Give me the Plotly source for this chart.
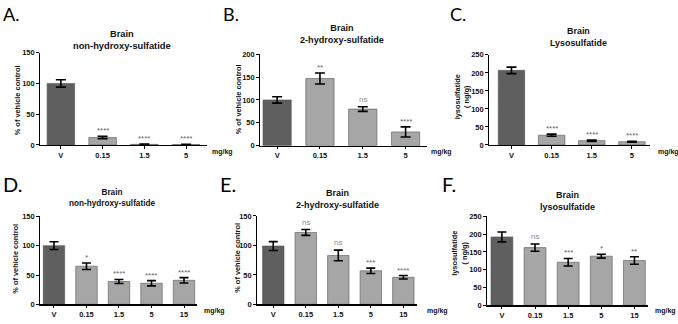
import plotly.graph_objects as go

W, H = 678, 324

# ---------------- data ----------------
cats4 = ["V", "0.15", "1.5", "5"]
cats5 = ["V", "0.15", "1.5", "5", "15"]

a_vals = [100, 12, 1, 0.6]
a_err = [6, 2, 0.4, 0.3]
a_sig = ["", "****", "****", "****"]

b_vals = [100, 147, 80, 30]
b_err = [7, 12, 5, 11]
b_sig = ["", "**", "ns", "****"]

c_vals = [207, 27, 12, 9]
c_err = [9, 3, 2, 1.5]
c_sig = ["", "****", "****", "****"]

d_vals = [100, 65, 39, 36, 41]
d_err = [6.5, 5.5, 3.5, 4.5, 4.5]
d_sig = ["", "*", "****", "****", "****"]

e_vals = [99, 122, 83, 57, 46]
e_err = [7.5, 5, 9, 4.5, 3]
e_sig = ["", "ns", "ns", "***", "****"]

f_vals = [192, 162, 121, 138, 126]
f_err = [14, 10, 10.5, 5.5, 10.5]
f_sig = ["", "ns", "***", "*", "**"]

a_ticks = [0, 50, 100, 150]
b_ticks = [0, 50, 100, 150, 200]
c_ticks = [0, 50, 100, 150, 200, 250]

# ---------------- layout config (pixels) ----------------
panels = [
    dict(letter="A.", cats=cats4, vals=a_vals, err=a_err, sig=a_sig, ticks=a_ticks,
         xpx=(40, 207), xr=[-0.5, 3.5], ypx=(145, 50), yr=[0, 150],
         title="Brain<br>non-hydroxy-sulfatide", tx=122, ty=37.5, tfs=9.3,
         ytitle="% of vehicle control", ytx=17, yty=99,
         mg=(210, 152), lx=1, ly=10, lfs=18),
    dict(letter="B.", cats=cats4, vals=b_vals, err=b_err, sig=b_sig, ticks=b_ticks,
         xpx=(260, 427), xr=[-0.4, 3.5], ypx=(145.7, 51.7), yr=[0, 200],
         title="Brain<br>2-hydroxy-sulfatide", tx=342, ty=31, tfs=9.1,
         ytitle="% of vehicle control", ytx=238, yty=98,
         mg=(429, 152), lx=221, ly=10, lfs=18),
    dict(letter="C.", cats=cats4, vals=c_vals, err=c_err, sig=c_sig, ticks=c_ticks,
         xpx=(489, 650), xr=[-0.56, 3.45], ypx=(145, 52.3), yr=[0, 250],
         title="Brain<br>Lysosulfatide", tx=578, ty=33.5, tfs=8.9,
         ytitle="lysosulfatide<br>( ng/g)", ytx=462, yty=95,
         mg=(656, 152), lx=448, ly=10, lfs=18),
    dict(letter="D.", cats=cats5, vals=d_vals, err=d_err, sig=d_sig, ticks=a_ticks,
         xpx=(40, 197), xr=[-0.43, 4.4], ypx=(309, 218.3), yr=[0, 150],
         title="Brain<br>non-hydroxy-sulfatide", tx=112, ty=200, tfs=8.2,
         ytitle="% of vehicle control", ytx=16, yty=262,
         mg=(202, 316), lx=1, ly=185, lfs=20),
    dict(letter="E.", cats=cats5, vals=e_vals, err=e_err, sig=e_sig, ticks=a_ticks,
         xpx=(257, 417), xr=[-0.5, 4.42], ypx=(309, 218), yr=[0, 150],
         title="Brain<br>2-hydroxy-sulfatide", tx=337, ty=201, tfs=9.0,
         ytitle="% of vehicle control", ytx=238, yty=261,
         mg=(425, 316), lx=218, ly=185, lfs=20),
    dict(letter="F.", cats=cats5, vals=f_vals, err=f_err, sig=f_sig, ticks=c_ticks,
         xpx=(487, 648), xr=[-0.45, 4.41], ypx=(310, 218.3), yr=[0, 250],
         title="Brain<br>lysosulfatide", tx=567, ty=202.5, tfs=9.0,
         ytitle="lysosulfatide<br>( ng/g)", ytx=460, yty=257,
         mg=(653, 316), lx=440, ly=185, lfs=20),
]

DARK = "#5f5f5f"
LIGHT = "#a6a6a6"
FONT = "Liberation Sans"


def px_x(x):
    return x / W


def px_y(y):
    return 1 - y / H


fig = go.Figure()
annotations = []
layout = {}

for i, p in enumerate(panels, start=1):
    xa = "x" if i == 1 else f"x{i}"
    ya = "y" if i == 1 else f"y{i}"
    colors = [DARK] + [LIGHT] * (len(p["cats"]) - 1)
    fig.add_trace(go.Bar(
        x=p["cats"], y=p["vals"], xaxis=xa, yaxis=ya,
        width=0.66,
        marker=dict(color=colors, line=dict(color="#555555", width=0.6)),
        error_y=dict(type="data", array=p["err"], visible=True,
                     color="black", thickness=1.6, width=5 if i <= 3 else 4.5),
        showlegend=False, hoverinfo="skip",
    ))
    tickfont = dict(family=FONT, size=7.5, color="#111", weight="bold")
    layout["xaxis" + ("" if i == 1 else str(i))] = dict(
        domain=[px_x(p["xpx"][0]), px_x(p["xpx"][1])],
        anchor=ya, type="category", range=p["xr"],
        showline=True, linecolor="black", linewidth=1.3,
        ticks="outside", ticklen=2.5, tickwidth=1, tickcolor="black",
        tickfont=tickfont,
        showgrid=False, zeroline=False, fixedrange=True,
    )
    layout["yaxis" + ("" if i == 1 else str(i))] = dict(
        domain=[px_y(p["ypx"][0]), px_y(p["ypx"][1])],
        anchor=xa, range=p["yr"], tickvals=p["ticks"],
        showline=True, linecolor="black", linewidth=1.3,
        ticks="outside", ticklen=2.5, tickwidth=1, tickcolor="black",
        tickfont=tickfont,
        showgrid=False, zeroline=False, fixedrange=True,
    )
    # title
    annotations.append(dict(
        text="<b>" + p["title"].replace("<br>", "</b><br><b>") + "</b>",
        x=px_x(p["tx"]), y=px_y(p["ty"]), xref="paper", yref="paper",
        xanchor="center", yanchor="middle", showarrow=False,
        font=dict(family=FONT, size=p["tfs"], color="#111"),
    ))
    # y-axis title
    annotations.append(dict(
        text="<b>" + p["ytitle"].replace("<br>", "</b><br><b>") + "</b>",
        x=px_x(p["ytx"]), y=px_y(p["yty"]), xref="paper", yref="paper",
        xanchor="center", yanchor="middle", showarrow=False, textangle=-90,
        font=dict(family=FONT, size=7.4, color="#111"),
    ))
    # mg/kg
    annotations.append(dict(
        text="<b>mg/kg</b>", x=px_x(p["mg"][0]), y=px_y(p["mg"][1]),
        xref="paper", yref="paper", xanchor="left", yanchor="middle",
        showarrow=False, font=dict(family=FONT, size=7, color="#111"),
    ))
    # panel letter
    annotations.append(dict(
        text=p["letter"], x=px_x(p["lx"]), y=px_y(p["ly"]),
        xref="paper", yref="paper", xanchor="left", yanchor="middle",
        showarrow=False, font=dict(family="Lato", size=p["lfs"], color="black"),
    ))
    # significance
    for k, (v, e, s) in enumerate(zip(p["vals"], p["err"], p["sig"])):
        if not s:
            continue
        is_ns = s == "ns"
        annotations.append(dict(
            text=s, x=k, y=v + e, xref=xa, yref=ya,
            xanchor="center", yanchor="bottom", yshift=1 if is_ns else -1,
            showarrow=False,
            font=dict(family=FONT, size=8,
                      color="#8a8a8a" if is_ns else "#666666"),
        ))

fig.update_layout(
    width=W, height=H,
    margin=dict(l=0, r=0, t=0, b=0),
    paper_bgcolor="white", plot_bgcolor="white",
    annotations=annotations,
    bargap=0.3,
    **layout,
)

fig.write_html("out.html",
               config={"displayModeBar": False, "staticPlot": True},
               post_script="document.body.style.margin='0';document.body.style.overflow='hidden';")
